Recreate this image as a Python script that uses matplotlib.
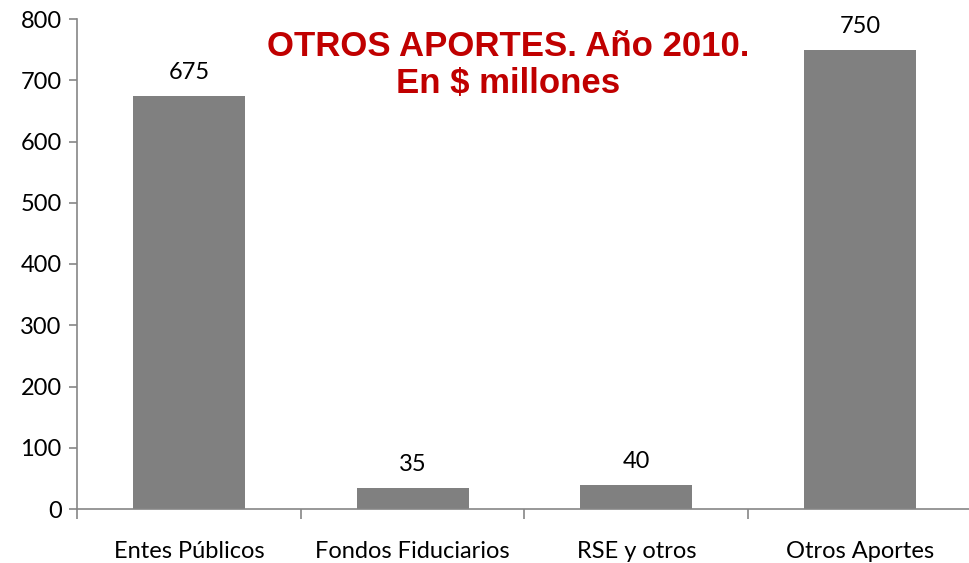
import matplotlib
matplotlib.use("Agg")
import matplotlib.pyplot as plt
import numpy as np

categories = ["Entes Públicos", "Fondos Fiduciarios", "RSE y otros", "Otros Aportes"]
values = [675, 35, 40, 750]
yticks = [0, 100, 200, 300, 400, 500, 600, 700, 800]

plt.rcParams["font.family"] = ["Lato", "DejaVu Sans"]

fig = plt.figure(figsize=(9.7, 5.63), dpi=100)
ax = fig.add_axes([77 / 970, 1 - 509 / 563, 895 / 970, 490 / 563])

x = np.arange(len(categories))
ax.bar(x, values, width=0.5, color="#808080")

# Value labels above bars
for xi, v in zip(x, values):
    ax.text(xi, v + 20, str(v), ha="center", va="bottom", fontsize=17, color="black")

ax.set_xlim(-0.5, len(categories) - 0.5)
ax.set_ylim(0, 800)
ax.set_yticks(yticks)
ax.tick_params(axis="y", labelsize=17, length=6, width=1.2, color="#868686", pad=5)

# Category labels, tick marks between categories
ax.set_xticks(x)
ax.set_xticklabels(categories, fontsize=17)
ax.tick_params(axis="x", which="major", length=0, pad=23)
ax.set_xticks(np.arange(-0.5, len(categories), 1.0), minor=True)
ax.tick_params(axis="x", which="minor", length=7, width=1.2, color="#868686")

for s in ["top", "right"]:
    ax.spines[s].set_visible(False)
for s in ["left", "bottom"]:
    ax.spines[s].set_color("#868686")
    ax.spines[s].set_linewidth(1.2)

fig.text(508 / 970, 1 - 65 / 563, "OTROS APORTES. Año 2010.\nEn $ millones",
         ha="center", va="center", fontsize=25, fontweight="bold",
         color="#C00000", family="Liberation Sans", linespacing=1.13)

plt.savefig("out.png", dpi=100)
